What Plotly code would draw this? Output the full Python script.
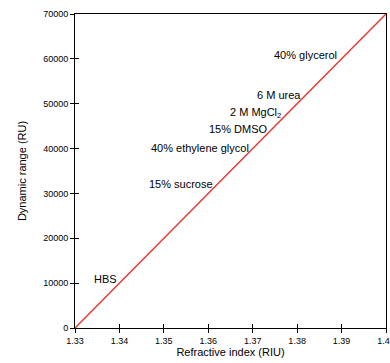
import plotly.graph_objects as go

# Data
refractive_index = [1.33, 1.40]
dynamic_range = [0, 70000]

label_texts = ["HBS", "15% sucrose", "40% ethylene glycol", "15% DMSO",
               "2 M MgCl<sub>2</sub>", "6 M urea", "40% glycerol"]
label_x = [1.3338, 1.3462, 1.3467, 1.3597, 1.3644, 1.3705, 1.3743]
label_y = [10900, 32100, 40100, 44400, 47900, 51900, 60900]

x_ticks = [1.33, 1.34, 1.35, 1.36, 1.37, 1.38, 1.39, 1.40]
y_ticks = [0, 10000, 20000, 30000, 40000, 50000, 60000, 70000]

FONT = "Liberation Sans, Arial, sans-serif"

fig = go.Figure()
fig.add_trace(go.Scatter(x=refractive_index, y=dynamic_range, mode="lines",
                         line=dict(color="#e8392f", width=1.5),
                         showlegend=False, hoverinfo="skip", cliponaxis=False))
# invisible trace for overlay axes (inner half of crossing ticks)
fig.add_trace(go.Scatter(x=refractive_index, y=dynamic_range, mode="lines",
                         line=dict(color="rgba(0,0,0,0)", width=0),
                         xaxis="x2", yaxis="y2", showlegend=False, hoverinfo="skip"))

for t, x, y in zip(label_texts, label_x, label_y):
    fig.add_annotation(x=x, y=y, text=t, showarrow=False, xanchor="left",
                       yanchor="middle", font=dict(family=FONT, size=11, color="#000"))

fig.update_layout(
    width=390, height=363,
    margin=dict(l=75, r=4, t=14, b=35),
    paper_bgcolor="white", plot_bgcolor="white",
    font=dict(family=FONT, size=9, color="#000"),
    xaxis=dict(range=[1.33, 1.40], tickvals=x_ticks,
               ticktext=[f"{v:.2f}" for v in x_ticks],
               showgrid=False, zeroline=False, showline=True, linecolor="#000",
               linewidth=1, mirror=True, ticks="outside", ticklen=4, tickcolor="#000",
               tickfont=dict(size=9), ticklabeloverflow="allow", automargin=False,
               title=dict(text="Refractive index (RIU)", font=dict(size=11), standoff=2)),
    yaxis=dict(range=[0, 70000], tickvals=y_ticks,
               ticktext=[str(v) for v in y_ticks],
               showgrid=False, zeroline=False, showline=True, linecolor="#000",
               linewidth=1, mirror=True, ticks="outside", ticklen=4, tickcolor="#000",
               tickfont=dict(size=9), automargin=False,
               title=dict(text="Dynamic range (RU)", font=dict(size=11), standoff=14)),
    xaxis2=dict(range=[1.33, 1.40], tickvals=x_ticks, overlaying="x", side="bottom",
                showticklabels=False, showgrid=False, zeroline=False, showline=False,
                ticks="inside", ticklen=4, tickcolor="#000", automargin=False),
    yaxis2=dict(range=[0, 70000], tickvals=y_ticks, overlaying="y", side="left",
                showticklabels=False, showgrid=False, zeroline=False, showline=False,
                ticks="inside", ticklen=4, tickcolor="#000", automargin=False),
)

fig.write_html("out.html")
